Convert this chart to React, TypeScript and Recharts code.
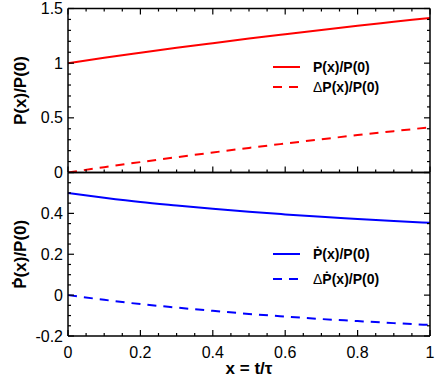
import React from 'react';
import { LineChart, Line, XAxis, YAxis, Legend, Label } from 'recharts';

const xValues = [0, 0.1, 0.2, 0.3, 0.4, 0.5, 0.6, 0.7, 0.8, 0.9, 1.0];
const pRatio = [1.0, 1.049, 1.095, 1.14, 1.183, 1.225, 1.265, 1.304, 1.342, 1.378, 1.414];
const dpRatio = [0.0, 0.049, 0.095, 0.14, 0.183, 0.225, 0.265, 0.304, 0.342, 0.378, 0.414];
const pDotRatio = [0.5, 0.477, 0.456, 0.439, 0.423, 0.408, 0.395, 0.383, 0.373, 0.363, 0.354];
const dpDotRatio = [0.0, -0.023, -0.044, -0.061, -0.077, -0.092, -0.105, -0.117, -0.127, -0.137, -0.146];

const xTicks = [0, 0.05, 0.1, 0.15, 0.2, 0.25, 0.3, 0.35, 0.4, 0.45, 0.5, 0.55, 0.6, 0.65, 0.7, 0.75, 0.8, 0.85, 0.9, 0.95, 1];
const xMajor = [0, 0.2, 0.4, 0.6, 0.8, 1];
const xLabels = ['0', '0.2', '0.4', '0.6', '0.8', '1'];
const topYTicks = [0, 0.1, 0.2, 0.3, 0.4, 0.5, 0.6, 0.7, 0.8, 0.9, 1, 1.1, 1.2, 1.3, 1.4, 1.5];
const topYMajor = [0, 0.5, 1, 1.5];
const topYLabels = ['0', '0.5', '1', '1.5'];
const botYTicks = [-0.2, -0.15, -0.1, -0.05, 0, 0.05, 0.1, 0.15, 0.2, 0.25, 0.3, 0.35, 0.4, 0.45, 0.5, 0.55, 0.6];
const botYMajor = [-0.2, 0, 0.2, 0.4, 0.6];
const botYLabels = ['-0.2', '0', '0.2', '0.4', ''];

const topNames = ['P(x)/P(0)', 'ΔP(x)/P(0)'];
const botNames = ['\u1E56(x)/P(0)', 'Δ\u1E56(x)/P(0)'];

const topData = xValues.map((x, i) => ({ x, p: pRatio[i], dp: dpRatio[i] }));
const botData = xValues.map((x, i) => ({ x, pd: pDotRatio[i], dpd: dpDotRatio[i] }));

const FONT = '"Liberation Sans", Arial, Helvetica, sans-serif';
const MAJOR_LEN = 6;
const MINOR_LEN = 3;

const majorIndex = (v: number, majors: number[]) => majors.findIndex((m) => Math.abs(m - v) < 1e-9);

const makeTick = (side: string, majors: number[], labels: string[] | null) => (props: any) => {
  const { x, y, payload } = props;
  const idx = majorIndex(payload.value, majors);
  const len = idx >= 0 ? MAJOR_LEN : MINOR_LEN;
  let line = null;
  let text = null;
  if (side === 'left') {
    line = <line x1={x} x2={x + len} y1={y} y2={y} stroke="#000" strokeWidth={1.2} />;
    if (labels && idx >= 0 && labels[idx])
      text = (
        <text x={x - 5} y={y} textAnchor="end" dominantBaseline="central" fontSize={16} fontFamily={FONT} fill="#000">
          {labels[idx]}
        </text>
      );
  } else if (side === 'right') {
    line = <line x1={x} x2={x - len} y1={y} y2={y} stroke="#000" strokeWidth={1.2} />;
  } else if (side === 'bottom') {
    line = <line x1={x} x2={x} y1={y} y2={y - len} stroke="#000" strokeWidth={1.2} />;
    if (labels && idx >= 0 && labels[idx])
      text = (
        <text x={x} y={y + 16} textAnchor="middle" dominantBaseline="central" fontSize={16} fontFamily={FONT} fill="#000">
          {labels[idx]}
        </text>
      );
  } else {
    line = <line x1={x} x2={x} y1={y} y2={y + len} stroke="#000" strokeWidth={1.2} />;
  }
  return (
    <g>
      {line}
      {text}
    </g>
  );
};

const yTitle = (title: string) => (p: any) => {
  const vb = p.viewBox;
  const cx = vb.x + vb.width - 48;
  const cy = vb.y + vb.height / 2;
  return (
    <text
      x={cx}
      y={cy}
      transform={`rotate(-90, ${cx}, ${cy})`}
      textAnchor="middle"
      dominantBaseline="central"
      fontSize={17}
      fontWeight="bold"
      fontFamily={FONT}
      fill="#000"
    >
      {title}
    </text>
  );
};

const xTitle = (p: any) => {
  const vb = p.viewBox;
  return (
    <text
      x={vb.x + vb.width / 2}
      y={vb.y + 32}
      textAnchor="middle"
      dominantBaseline="central"
      fontSize={17}
      fontWeight="bold"
      fontFamily={FONT}
      fill="#000"
    >
      x = t/τ
    </text>
  );
};

const renderLegend = (rowGap: number, names: string[]) => (props: any) => {
  const payload = [...(props.payload || [])].sort(
    (a: any, b: any) => names.indexOf(a.value) - names.indexOf(b.value)
  );
  return (
    <svg width={160} height={20 + rowGap * payload.length} style={{ overflow: 'visible', display: 'block' }}>
      {payload.map((e: any, i: number) => {
        const y = 10 + i * rowGap;
        const val: string = e.value;
        const hasDelta = val.startsWith('Δ');
        return (
          <g key={i}>
            <line
              x1={3}
              x2={30}
              y1={y}
              y2={y}
              stroke={e.color}
              strokeWidth={2}
              strokeDasharray={hasDelta ? '9 7' : undefined}
            />
            <text x={43} y={y} dominantBaseline="central" fontSize={14} fontWeight="bold" fontFamily={FONT} fill="#000">
              {hasDelta ? (
                <>
                  <tspan fontWeight="normal">Δ</tspan>
                  {val.slice(1)}
                </>
              ) : (
                val
              )}
            </text>
          </g>
        );
      })}
    </svg>
  );
};

const axisLineStyle = { stroke: '#000', strokeWidth: 1.5 };

export default function App() {
  return (
    <div style={{ position: 'absolute', left: 0, top: 0, width: 436, height: 380, background: '#fff', fontFamily: FONT }}>
      <div style={{ position: 'absolute', left: 0, top: 0 }}>
        <LineChart width={436} height={380} data={topData} margin={{ top: 7.5, right: 5, bottom: 206.5, left: 67 }}>
          <XAxis
            xAxisId="b"
            dataKey="x"
            type="number"
            domain={[0, 1]}
            ticks={xTicks}
            interval={0}
            height={1}
            tickSize={0}
            tickMargin={0}
            tickLine={false}
            axisLine={axisLineStyle}
            tick={makeTick('bottom', xMajor, null)}
          />
          <XAxis
            xAxisId="t"
            orientation="top"
            dataKey="x"
            type="number"
            domain={[0, 1]}
            ticks={xTicks}
            interval={0}
            height={1}
            tickSize={0}
            tickMargin={0}
            tickLine={false}
            axisLine={axisLineStyle}
            tick={makeTick('top', xMajor, null)}
          />
          <YAxis
            yAxisId="l"
            type="number"
            domain={[0, 1.5]}
            allowDataOverflow
            ticks={topYTicks}
            interval={0}
            width={1}
            tickSize={0}
            tickMargin={0}
            tickLine={false}
            axisLine={axisLineStyle}
            tick={makeTick('left', topYMajor, topYLabels)}
            label={<Label content={yTitle('P(x)/P(0)')} />}
          />
          <YAxis
            yAxisId="r"
            orientation="right"
            type="number"
            domain={[0, 1.5]}
            allowDataOverflow
            ticks={topYTicks}
            interval={0}
            width={1}
            tickSize={0}
            tickMargin={0}
            tickLine={false}
            axisLine={axisLineStyle}
            tick={makeTick('right', topYMajor, null)}
          />
          <Legend
            layout="vertical"
            align="center"
            verticalAlign="middle"
            content={renderLegend(20, topNames)}
            wrapperStyle={{ position: 'absolute', left: 270, top: 57, width: 160, height: 60, bottom: 'auto', right: 'auto' }}
          />
          <Line
            xAxisId="b"
            yAxisId="l"
            dataKey="p"
            name={topNames[0]}
            stroke="#ff0000"
            strokeWidth={2}
            dot={false}
            type="monotone"
            isAnimationActive={false}
          />
          <Line
            xAxisId="b"
            yAxisId="l"
            dataKey="dp"
            name={topNames[1]}
            stroke="#ff0000"
            strokeWidth={2}
            strokeDasharray="9 7"
            dot={false}
            type="monotone"
            isAnimationActive={false}
          />
        </LineChart>
      </div>
      <div style={{ position: 'absolute', left: 0, top: 0 }}>
        <LineChart width={436} height={380} data={botData} margin={{ top: 171.5, right: 5, bottom: 43, left: 67 }}>
          <XAxis
            xAxisId="b"
            dataKey="x"
            type="number"
            domain={[0, 1]}
            ticks={xTicks}
            interval={0}
            height={1}
            tickSize={0}
            tickMargin={0}
            tickLine={false}
            axisLine={axisLineStyle}
            tick={makeTick('bottom', xMajor, xLabels)}
            label={<Label content={xTitle} />}
          />
          <XAxis
            xAxisId="t"
            orientation="top"
            dataKey="x"
            type="number"
            domain={[0, 1]}
            height={1}
            tickLine={false}
            axisLine={axisLineStyle}
            tick={false}
          />
          <YAxis
            yAxisId="l"
            type="number"
            domain={[-0.2, 0.6]}
            allowDataOverflow
            ticks={botYTicks}
            interval={0}
            width={1}
            tickSize={0}
            tickMargin={0}
            tickLine={false}
            axisLine={axisLineStyle}
            tick={makeTick('left', botYMajor, botYLabels)}
            label={<Label content={yTitle(botNames[0])} />}
          />
          <YAxis
            yAxisId="r"
            orientation="right"
            type="number"
            domain={[-0.2, 0.6]}
            allowDataOverflow
            ticks={botYTicks}
            interval={0}
            width={1}
            tickSize={0}
            tickMargin={0}
            tickLine={false}
            axisLine={axisLineStyle}
            tick={makeTick('right', botYMajor, null)}
          />
          <Legend
            layout="vertical"
            align="center"
            verticalAlign="middle"
            content={renderLegend(25, botNames)}
            wrapperStyle={{ position: 'absolute', left: 270, top: 244, width: 160, height: 60, bottom: 'auto', right: 'auto' }}
          />
          <Line
            xAxisId="b"
            yAxisId="l"
            dataKey="pd"
            name={botNames[0]}
            stroke="#0000ff"
            strokeWidth={2}
            dot={false}
            type="monotone"
            isAnimationActive={false}
          />
          <Line
            xAxisId="b"
            yAxisId="l"
            dataKey="dpd"
            name={botNames[1]}
            stroke="#0000ff"
            strokeWidth={2}
            strokeDasharray="9 7"
            dot={false}
            type="monotone"
            isAnimationActive={false}
          />
        </LineChart>
      </div>
    </div>
  );
}
